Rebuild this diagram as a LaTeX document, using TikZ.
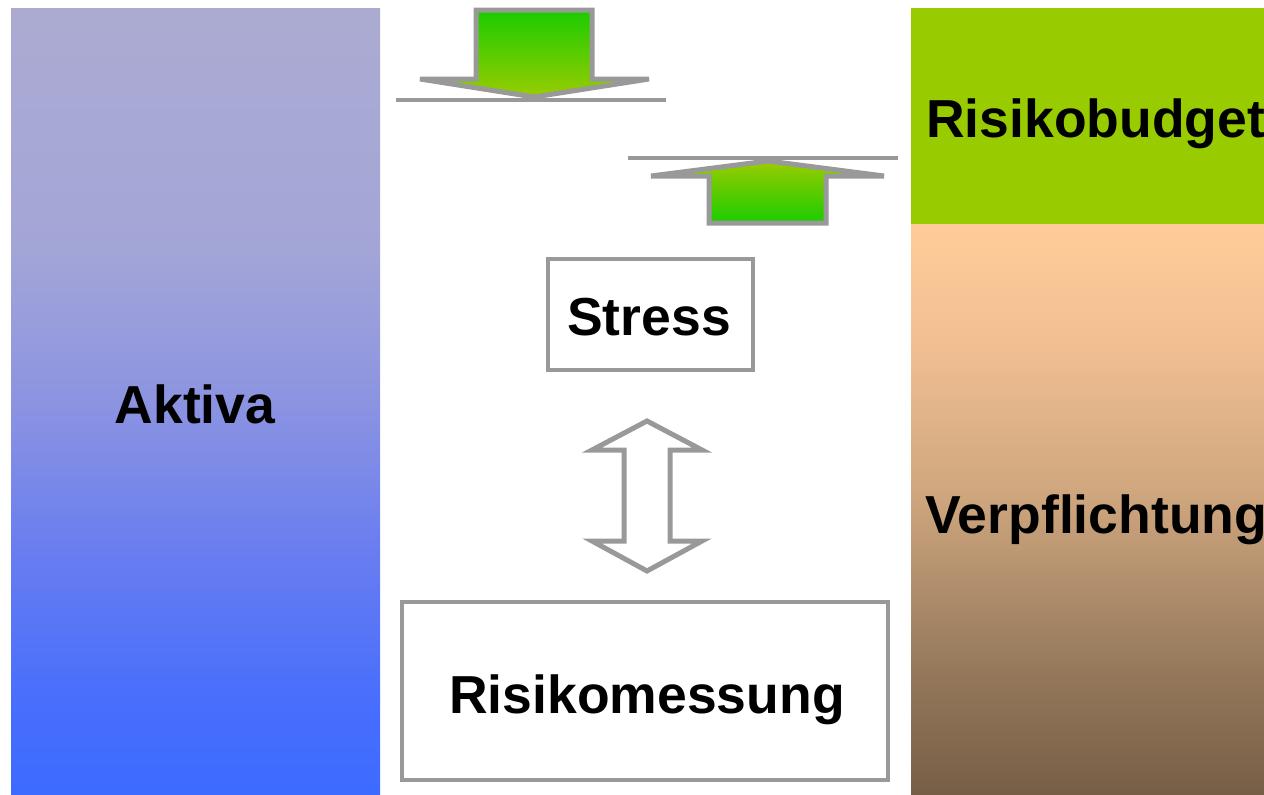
\documentclass[tikz,border=0pt]{standalone}
\usepackage{fontspec}
\setmainfont{Liberation Sans}
\definecolor{arrowgray}{RGB}{153,153,153}
\definecolor{budget}{RGB}{153,204,0}
\definecolor{agreen}{RGB}{26,204,0}
\definecolor{ayellow}{RGB}{153,204,0}
\definecolor{la0}{RGB}{171,171,210}
\definecolor{la1}{RGB}{163,165,215}
\definecolor{la2}{RGB}{140,148,225}
\definecolor{la3}{RGB}{105,125,240}
\definecolor{la4}{RGB}{72,110,252}
\definecolor{la5}{RGB}{61,107,255}
\definecolor{ve0}{RGB}{255,204,153}
\definecolor{ve1}{RGB}{240,190,145}
\definecolor{ve2}{RGB}{205,165,125}
\definecolor{ve3}{RGB}{155,125,95}
\definecolor{ve4}{RGB}{118,94,70}
\begin{document}
\begin{tikzpicture}[x=1pt,y=-1pt,
  grayline/.style={draw=arrowgray, line width=5pt},
  lbl/.style={font=\fontsize{53.5}{60}\selectfont\bfseries, text=black, inner sep=0pt},
  boxed/.style={draw=arrowgray, line width=4.5pt, fill=white}]
\useasboundingbox (0,0) rectangle (1264,795);
\clip (0,0) rectangle (1264,795);
% left panel (Aktiva)
\shade[top color=la0, bottom color=la1] (11,8) rectangle (380,250.5);
\shade[top color=la1, bottom color=la2] (11,250) rectangle (380,400.5);
\shade[top color=la2, bottom color=la3] (11,400) rectangle (380,550.5);
\shade[top color=la3, bottom color=la4] (11,550) rectangle (380,700.5);
\shade[top color=la4, bottom color=la5] (11,700) rectangle (380,795);
% right panels
\fill[budget] (911,8) rectangle (1264,224);
\shade[top color=ve0, bottom color=ve1] (911,224) rectangle (1264,350.5);
\shade[top color=ve1, bottom color=ve2] (911,350) rectangle (1264,500.5);
\shade[top color=ve2, bottom color=ve3] (911,500) rectangle (1264,650.5);
\shade[top color=ve3, bottom color=ve4] (911,650) rectangle (1264,795);
% text labels
\node[lbl, anchor=base] (aktiva) at (195,423) {Aktiva};
\node[lbl, anchor=base west] (budgettext) at (926,137) {Risikobudget};
\node[lbl, anchor=base west] (verpf) at (925,533) {Verpflichtung};
% boxes
\node[boxed, minimum width=205pt, minimum height=111pt] (stressbox) at (650.5,314.5) {};
\node[lbl, anchor=base] (stress) at (649,335) {Stress};
\node[boxed, minimum width=486pt, minimum height=178pt] (messbox) at (645,691) {};
\node[lbl, anchor=base] (mess) at (647,713) {Risikomessung};
% top arrow (down)
\coordinate (l1a) at (396,100);
\coordinate (l1b) at (666,100);
\draw[draw=arrowgray, line width=4pt] (l1a) -- (l1b);
\draw[grayline, top color=agreen, bottom color=ayellow, line join=miter]
  (476,10) -- (592,10) -- (592,79) -- (649,79) -- (534,97) -- (420,79) -- (476,79) -- cycle;
% second arrow (up)
\coordinate (l2a) at (628,158);
\coordinate (l2b) at (898,158);
\draw[draw=arrowgray, line width=4pt] (l2a) -- (l2b);
\draw[grayline, top color=ayellow, bottom color=agreen, line join=miter]
  (709,223) -- (826,223) -- (826,176) -- (884,176) -- (768,161) -- (651,176) -- (709,176) -- cycle;
% double arrow
\draw[grayline, fill=white, line join=miter]
  (647,421) -- (702,450) -- (670,450) -- (670,541) -- (702,541) -- (647,571)
  -- (592,541) -- (624,541) -- (624,450) -- (592,450) -- cycle;
\end{tikzpicture}
\end{document}
